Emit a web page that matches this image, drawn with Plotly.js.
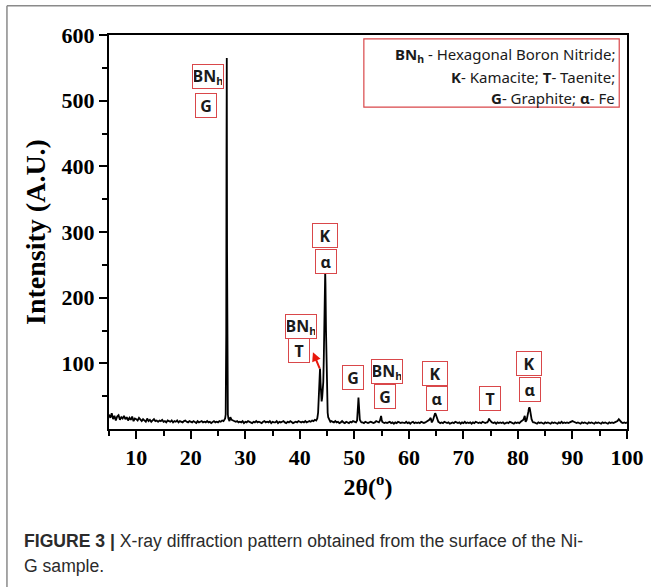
<!DOCTYPE html>
<html>
<head>
<meta charset="utf-8">
<script src="https://cdn.plot.ly/plotly-3.0.1.min.js"></script>
<style>
  html, body { margin: 0; padding: 0; background: #ffffff; }
  #chart { width: 651px; height: 587px; }
</style>
</head>
<body>
<div id="chart"></div>
<script>
// XRD scan of the Ni-G sample surface: background scan at 0.25° steps
const scanStart = 5;
const scanStep = 0.25;
const backgroundCounts = [
  22,17,24,15,20,13,19,21,14,18,16,20,
  15,18,13,17,14,19,12,16,15,13,17,14,
  12,15,13,11,16,12,14,11,13,15,12,13,
  11,13,12,14,11,12,10,13,12,11,13,10,
  12,11,13,10,12,11,10,12,13,11,10,12,
  11,10,12,11,9,12,10,11,12,10,11,10,
  12,10,11,9,11,12,10,11,10,12,11,13,
  12,13,14,15,16,18,14,13,12,11,12,10,
  11,10,12,9,11,10,12,11,10,9,11,10,
  12,10,11,10,9,11,12,10,11,10,12,9,
  11,10,10,12,9,11,10,11,12,10,9,11,
  10,12,11,9,10,11,10,12,11,10,11,10,
  12,10,11,12,11,13,12,14,16,30,60,90,
  120,200,230,100,40,20,14,12,11,10,12,10,
  11,9,10,12,10,9,11,10,9,11,10,12,
  11,10,12,11,10,12,10,9,11,10,9,10,
  11,10,9,10,12,11,14,18,12,10,9,10,
  9,10,11,9,10,8,10,9,11,10,9,10,
  10,9,11,9,10,8,10,11,9,10,9,10,
  9,11,10,9,10,11,12,14,17,22,20,14,
  12,11,10,9,10,9,11,10,9,10,8,9,
  10,9,11,10,9,10,8,10,9,11,9,10,
  9,10,8,10,9,11,10,9,10,9,11,10,
  9,10,12,15,11,10,9,10,8,10,9,10,
  9,10,8,9,10,9,11,10,9,8,10,9,
  10,9,11,12,14,20,30,25,15,11,10,9,
  10,9,8,10,9,10,9,8,10,9,10,9,
  8,10,9,10,9,8,10,9,11,9,10,9,
  10,9,10,11,12,11,10,9,10,9,8,10,
  9,10,9,8,10,9,10,9,8,10,9,10,
  9,8,10,9,10,9,8,10,9,10,9,10,
  11,12,15,12,10,9,10,9,10
];

// Reflections recorded at finer steps (2θ in degrees, counts)
const peakBNhG_angle = [26.20,26.30,26.40,26.45,26.50,26.55,26.60,26.65,26.70,26.75,26.80,26.90,27.00,27.10];
const peakBNhG_count = [14,16,22,60,145,420,565,270,140,45,22,16,13,12];

const peakTK_angle = [43.00,43.20,43.35,43.50,43.60,43.70,43.80,43.90,44.00,44.10,44.20,44.30,44.40,44.50,44.60,44.65,44.70,44.80,44.90,45.00,45.10,45.20,45.35,45.50,45.60];
const peakTK_count = [13,16,25,55,80,92,70,50,42,48,58,72,110,170,225,240,222,150,85,45,25,18,14,12,11];

const peakG_angle = [50.30,50.50,50.60,50.70,50.75,50.80,50.90,51.00,51.20,51.30];
const peakG_count = [10,13,22,40,48,42,22,14,11,10];

const peakBNhG2_angle = [54.50,54.70,54.80,54.90,55.00,55.10,55.30];
const peakBNhG2_count = [10,13,18,20,15,11,10];

const peakKa1_angle = [64.20,64.40,64.60,64.70,64.80,64.90,65.00,65.20,65.40,65.60];
const peakKa1_count = [10,13,19,22,24,23,20,14,11,10];

const peakT_angle = [74.40,74.60,74.70,74.80,75.00,75.20];
const peakT_count = [10,13,16,14,11,10];

const peakKa2_angle = [81.40,81.60,81.80,81.90,82.00,82.10,82.20,82.30,82.50,82.70,82.80];
const peakKa2_count = [11,14,20,26,31,33,30,24,15,11,10];

// Phase labels placed over the reflections
const labelText = ['BN<sub>h</sub>','G','K','α','BN<sub>h</sub>','T','G','BN<sub>h</sub>','G','K','α','T','K','α'];

// Assemble the full pattern: background points inside a fine-step window are replaced
const peaks = [
  [peakBNhG_angle, peakBNhG_count],
  [peakTK_angle, peakTK_count],
  [peakG_angle, peakG_count],
  [peakBNhG2_angle, peakBNhG2_count],
  [peakKa1_angle, peakKa1_count],
  [peakT_angle, peakT_count],
  [peakKa2_angle, peakKa2_count]
];
const pts = [];
backgroundCounts.forEach((c, i) => {
  const a = scanStart + i * scanStep;
  const inside = peaks.some(p => a >= p[0][0] && a <= p[0][p[0].length - 1]);
  if (!inside) pts.push([a, c]);
});
peaks.forEach(p => p[0].forEach((a, i) => pts.push([a, p[1][i]])));
pts.sort((u, v) => u[0] - v[0]);

const trace = {
  x: pts.map(p => p[0]),
  y: pts.map(p => p[1]),
  type: 'scatter',
  mode: 'lines',
  line: { color: '#000000', width: 1.8 },
  hoverinfo: 'x+y'
};

// label anchor points (2θ, intensity) and box widths
const labelSpots = [
  [23.2, 537, 28], [22.7, 493, 18],
  [44.6, 294, 22], [44.8, 255, 18],
  [40.3, 156, 28], [39.8, 120, 18],
  [49.8, 79, 18],
  [56.0, 88, 28], [55.6, 49, 18],
  [64.8, 84, 22], [65.1, 46, 18],
  [74.85, 46, 18],
  [82.06, 99, 22], [82.25, 60, 18]
];

const labelFont = { family: 'Noto Sans, Open Sans, sans-serif', size: 16, color: '#1a1a1a', weight: 'bold' };
const annotations = labelText.map((t, i) => ({
  xref: 'x', yref: 'y',
  x: labelSpots[i][0], y: labelSpots[i][1],
  text: t,
  showarrow: false,
  font: labelFont,
  bgcolor: '#ffffff',
  bordercolor: '#d9474a',
  borderwidth: 1,
  borderpad: 1,
  width: labelSpots[i][2],
  height: 21,
  xanchor: 'center', yanchor: 'middle'
}));

// red arrow pointing from the Taenite shoulder to its label
annotations.push({
  xref: 'x', yref: 'y', axref: 'x', ayref: 'y',
  x: 42.4, y: 117, ax: 43.75, ay: 90,
  text: '', showarrow: true,
  arrowcolor: '#e8180c', arrowwidth: 2, arrowhead: 2, arrowsize: 0.9
});

// key to the phase symbols
const keyFont = { family: 'Noto Sans, Open Sans, sans-serif', size: 15, color: '#1a1a1a' };
const keyLines = [
  '<b>BN<sub>h</sub></b> - Hexagonal Boron Nitride;',
  '<b>K</b>- Kamacite; <b>T</b>- Taenite;',
  '<b>G</b>- Graphite; <b>α</b>- Fe'
];
const keyY = [0.949, 0.893, 0.840];
keyLines.forEach((t, i) => annotations.push({
  xref: 'paper', yref: 'paper', x: 0.98, y: keyY[i],
  xanchor: 'right', yanchor: 'middle',
  text: t, showarrow: false, font: keyFont
}));

// figure caption
const capFont = { family: 'Liberation Sans, Arial, sans-serif', size: 17.6, color: '#2b2b2b' };
annotations.push({
  xref: 'paper', yref: 'paper', x: -0.168, y: -0.284,
  xanchor: 'left', yanchor: 'middle', showarrow: false, font: capFont,
  text: '<b>FIGURE 3 |</b> X-ray diffraction pattern obtained from the surface of the Ni-'
});
annotations.push({
  xref: 'paper', yref: 'paper', x: -0.168, y: -0.348,
  xanchor: 'left', yanchor: 'middle', showarrow: false, font: capFont,
  text: 'G sample.'
});

const shapes = [
  { type: 'rect', xref: 'paper', yref: 'paper', x0: 0.492, x1: 0.985, y0: 0.817, y1: 0.990,
    line: { color: '#d9474a', width: 1.2 }, fillcolor: 'rgba(0,0,0,0)' },
  // figure panel frame
  { type: 'line', xref: 'paper', yref: 'paper', x0: -0.197, x1: 1.05, y0: 1.074, y1: 1.074,
    line: { color: '#8a8a8a', width: 1.5 } },
  { type: 'line', xref: 'paper', yref: 'paper', x0: -0.197, x1: -0.197, y0: 1.074, y1: -0.41,
    line: { color: '#8a8a8a', width: 1.5 } }
];

const axisFont = { family: 'Liberation Serif, Times New Roman, serif', size: 22, color: '#000000', weight: 'bold' };
const xTitleFont = { family: 'Liberation Serif, Times New Roman, serif', size: 24, color: '#000000', weight: 'bold' };
const yTitleFont = { family: 'Liberation Serif, Times New Roman, serif', size: 28, color: '#000000', weight: 'bold' };

const layout = {
  width: 651, height: 587,
  margin: { l: 109, r: 24, t: 35, b: 158 },
  paper_bgcolor: '#ffffff', plot_bgcolor: '#ffffff',
  showlegend: false,
  xaxis: {
    range: [5, 100], tick0: 0, dtick: 10,
    ticks: 'outside', ticklen: 8, tickwidth: 2, tickcolor: '#000',
    minor: { dtick: 5, ticks: 'outside', ticklen: 5, tickwidth: 2, tickcolor: '#000' },
    showline: true, linewidth: 2, linecolor: '#000', mirror: true,
    showgrid: false, zeroline: false,
    tickfont: axisFont,
    title: { text: '2θ(<sup>o</sup>)', font: xTitleFont, standoff: 6 }
  },
  yaxis: {
    range: [0, 600], tickmode: 'array', tickvals: [100, 200, 300, 400, 500, 600],
    ticks: 'outside', ticklen: 8, tickwidth: 2, tickcolor: '#000',
    minor: { tickmode: 'array', tickvals: [50, 150, 250, 350, 450, 550], ticks: 'outside', ticklen: 5, tickwidth: 2, tickcolor: '#000' },
    showline: true, linewidth: 2, linecolor: '#000', mirror: true,
    showgrid: false, zeroline: false,
    tickfont: axisFont,
    title: { text: 'Intensity (A.U.)', font: yTitleFont, standoff: 8 }
  },
  annotations: annotations,
  shapes: shapes
};

Plotly.newPlot('chart', [trace], layout, { displayModeBar: false, staticPlot: true });
</script>
</body>
</html>
